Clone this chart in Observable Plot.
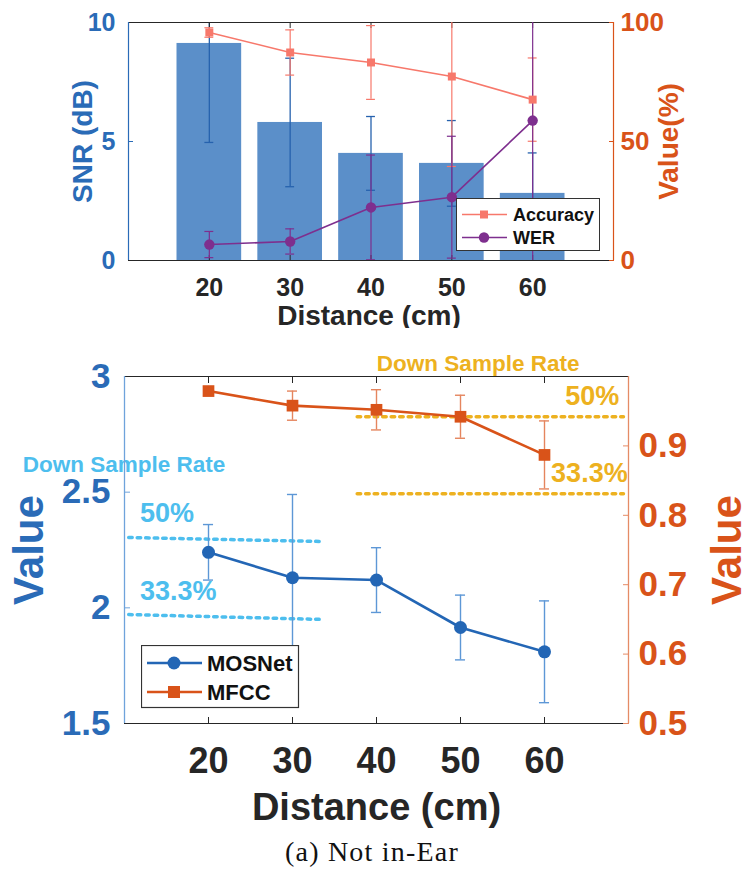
<!DOCTYPE html>
<html><head><meta charset="utf-8">
<script src="https://cdn.jsdelivr.net/npm/d3@7"></script>
<script src="https://cdn.jsdelivr.net/npm/@observablehq/plot@0.6"></script>
<style>
body{margin:0;background:#fff;}
#root{position:relative;width:744px;height:869px;overflow:hidden;background:#fff;}
.panel{position:absolute;left:0;width:744px;overflow:hidden;}
.panel svg.plot-layer{position:absolute;left:0;top:0;}
.legend{position:absolute;}
#caption{position:absolute;left:0;width:744px;text-align:center;font-family:"Liberation Serif","Times New Roman",serif;font-size:28px;letter-spacing:1.2px;color:#111;}
</style></head>
<body><div id="root"></div>
<script>
// ---------- data ----------
const distances = [20, 30, 40, 50, 60];
// top panel
const snr = [9.12, 5.80, 4.50, 4.08, 2.82];
const snrErr = [4.16, 2.70, 1.55, 1.80, 1.70];
const accuracy = [95.8, 87.4, 83.2, 77.3, 67.6];
const accuracyErr = [2.0, 9.5, 15.5, 37.8, 17.5];
const wer = [6.7, 8.0, 22.3, 26.6, 58.8];
const werErr = [5.5, 5.3, 22.0, 25.6, 60.0];
const topLeftTicks = [0, 5, 10];
const topRightTicks = [0, 50, 100];
// bottom panel
const mosnet = [2.24, 2.13, 2.12, 1.915, 1.81];
const mosnetErr = [0.12, 0.36, 0.14, 0.14, 0.22];
const mfcc = [0.979, 0.958, 0.952, 0.942, 0.887];
const mfccErr = [0.006, 0.021, 0.029, 0.031, 0.049];
const botLeftTicks = [1.5, 2, 2.5, 3];
const botRightTicks = [0.5, 0.6, 0.7, 0.8, 0.9];
// down-sample-rate reference lines
const dsrLabels = ["50%", "33.3%"];
const mosnetDsrX = [10.5, 33.3];
const mosnetDsrStart = [2.304, 1.971];
const mosnetDsrEnd = [2.287, 1.950];
const mfccDsrX = [37.7, 69.4];
const mfccDsr = [0.942, 0.831];

// ---------- styles ----------
const FONT = '"Liberation Sans", Arial, Helvetica, sans-serif';
const blue = "#2A6BB7", barBlue = "#5B8FC9", orange = "#D95319", salmon = "#F7786B",
      purple = "#7E2F8E", lightBlue = "#4DBEEE", gold = "#EDB120", dark = "#262626";
const xDomain = [10, 70];
const W = 744;
const noText = () => "";
const fmt = d => String(d);

const topRows = distances.map((d, i) => ({dist: d, snr: snr[i], snrErr: snrErr[i], acc: accuracy[i], accErr: accuracyErr[i], wer: wer[i], werErr: werErr[i]}));
const botRows = distances.map((d, i) => ({dist: d, mos: mosnet[i], mosErr: mosnetErr[i], mfcc: mfcc[i], mfccErr: mfccErr[i]}));
const mosDsrLines = dsrLabels.flatMap((lab, i) => [
  {rate: lab, x: mosnetDsrX[0], y: mosnetDsrStart[i]},
  {rate: lab, x: mosnetDsrX[1], y: mosnetDsrEnd[i]}]);
const mfccDsrLines = dsrLabels.flatMap((lab, i) => mfccDsrX.map(x => ({rate: lab, x, y: mfccDsr[i]})));

function layer(opts) {
  const svg = Plot.plot({width: W, x: {domain: xDomain, axis: null},
    style: {background: "transparent", overflow: "visible", fontFamily: FONT}, ...opts});
  svg.classList.add("plot-layer");
  return svg;
}
function errBars(data, key, errKey, color, capHalf, sw) {
  return [
    Plot.ruleX(data, {x: "dist", y1: d => d[key] - d[errKey], y2: d => d[key] + d[errKey], stroke: color, strokeWidth: sw, clip: true}),
    Plot.ruleY(data, {y: d => d[key] + d[errKey], x1: d => d.dist - capHalf, x2: d => d.dist + capHalf, stroke: color, strokeWidth: sw, clip: true}),
    Plot.ruleY(data, {y: d => d[key] - d[errKey], x1: d => d.dist - capHalf, x2: d => d.dist + capHalf, stroke: color, strokeWidth: sw, clip: true})
  ];
}
function title(str, anchor, dx, dy, size, color) {
  return Plot.text([str], {text: d => d, frameAnchor: anchor, dx, dy, rotate: (anchor === "left" || anchor === "right") ? -90 : 0,
    textAnchor: "middle", lineAnchor: "middle", fontSize: size, fontWeight: "bold", fill: color});
}

const root = document.getElementById("root");

// ---------- top panel ----------
const topPanel = document.createElement("div");
topPanel.className = "panel"; topPanel.style.top = "0px"; topPanel.style.height = "328px";
root.appendChild(topPanel);
const topM = {height: 340, marginLeft: 128, marginRight: 131, marginTop: 22, marginBottom: 80};

topPanel.appendChild(layer({...topM, y: {domain: [0, 10], axis: null},
  marks: [
    Plot.rectY(topRows, {x1: d => d.dist - 4, x2: d => d.dist + 4, y: "snr", fill: barBlue}),
    ...errBars(topRows, "snr", "snrErr", "#2662AE", 0.55, 1.3),
    Plot.axisX({ticks: distances, tickSize: -5, tickFormat: noText, stroke: dark, label: null}),
    Plot.axisX({anchor: "top", ticks: distances, tickSize: -5, tickFormat: noText, stroke: dark, label: null}),
    Plot.axisX({ticks: distances, tickSize: 0, tickPadding: 18, tickFormat: fmt, fontSize: 25, fontWeight: "bold", fill: dark, label: null}),
    Plot.axisY({ticks: topLeftTicks, tickSize: -5, tickFormat: noText, stroke: blue, label: null}),
    Plot.axisY({ticks: topLeftTicks, tickSize: 0, tickPadding: 13, tickFormat: fmt, fontSize: 25, fontWeight: "bold", fill: blue, label: null}),
    Plot.ruleY([0], {stroke: dark, strokeWidth: 1.2}),
    Plot.ruleY([10], {stroke: dark, strokeWidth: 1.2}),
    Plot.ruleX([xDomain[0]], {stroke: blue, strokeWidth: 1.2}),
    title("SNR (dB)", "left", -45, 0, 28, blue),
    title("Distance (cm)", "bottom", -2, 56, 28, dark)
  ]}));

topPanel.appendChild(layer({...topM, y: {domain: [0, 100], axis: null},
  marks: [
    ...errBars(topRows, "acc", "accErr", salmon, 0.55, 1.2),
    ...errBars(topRows, "wer", "werErr", purple, 0.55, 1.2),
    Plot.line(topRows, {x: "dist", y: "acc", stroke: salmon, strokeWidth: 1.6}),
    Plot.dot(topRows, {x: "dist", y: "acc", symbol: "square", r: 4.5, fill: salmon}),
    Plot.line(topRows, {x: "dist", y: "wer", stroke: purple, strokeWidth: 1.6}),
    Plot.dot(topRows, {x: "dist", y: "wer", r: 5.2, fill: purple}),
    Plot.axisY({anchor: "right", ticks: topRightTicks, tickSize: -5, tickFormat: noText, stroke: orange, label: null}),
    Plot.axisY({anchor: "right", ticks: topRightTicks, tickSize: 0, tickPadding: 7, tickFormat: fmt, fontSize: 26, fontWeight: "bold", fill: orange, label: null}),
    Plot.ruleX([xDomain[1]], {stroke: orange, strokeWidth: 1.2}),
    title("Value(%)", "right", 56, 0, 28, orange)
  ]}));

// top legend
const topLegend = `
<svg class="legend" style="left:456px;top:198px" width="145" height="53" font-family='${FONT}'>
  <rect x="0.5" y="0.5" width="143" height="52" fill="#fff" stroke="#333" stroke-width="1"/>
  <line x1="6" x2="51" y1="16.5" y2="16.5" stroke="${salmon}" stroke-width="1.6"/>
  <rect x="24" y="12.5" width="8" height="8" fill="${salmon}"/>
  <text x="57" y="16.5" dy="0.35em" font-size="18" font-weight="bold" fill="#111">Accuracy</text>
  <line x1="6" x2="51" y1="39.5" y2="39.5" stroke="${purple}" stroke-width="1.6"/>
  <circle cx="28" cy="39.5" r="5.2" fill="${purple}"/>
  <text x="57" y="39.5" dy="0.35em" font-size="18" font-weight="bold" fill="#111">WER</text>
</svg>`;
topPanel.insertAdjacentHTML("beforeend", topLegend);

// ---------- bottom panel ----------
const botPanel = document.createElement("div");
botPanel.className = "panel"; botPanel.style.top = "340px"; botPanel.style.height = "529px";
root.appendChild(botPanel);
const botM = {height: 529, marginLeft: 124, marginRight: 116, marginTop: 36, marginBottom: 146};

botPanel.appendChild(layer({...botM, y: {domain: [1.5, 3], axis: null},
  marks: [
    Plot.line(mosDsrLines, {x: "x", y: "y", z: "rate", stroke: lightBlue, strokeWidth: 3.5, strokeDasharray: "3.5,5"}),
    Plot.text(["Down Sample Rate"], {text: d => d, x: 9.94, y: 2.62, fontSize: 22.5, fontWeight: "bold", fill: lightBlue}),
    Plot.text(dsrLabels, {text: d => d, x: 11.85, y: [2.41, 2.07], textAnchor: "start", fontSize: 27, fill: lightBlue, fontWeight: "bold"}),
    ...errBars(botRows, "mos", "mosErr", "#5D97D6", 0.6, 1.4),
    Plot.line(botRows, {x: "dist", y: "mos", stroke: "#2366B5", strokeWidth: 2.6}),
    Plot.dot(botRows, {x: "dist", y: "mos", r: 6.5, fill: "#2366B5"}),
    Plot.axisX({ticks: distances, tickSize: -6, tickFormat: noText, stroke: dark, label: null}),
    Plot.axisX({anchor: "top", ticks: distances, tickSize: -6, tickFormat: noText, stroke: dark, label: null}),
    Plot.axisX({ticks: distances, tickSize: 0, tickPadding: 24, tickFormat: fmt, fontSize: 36, fontWeight: "bold", fill: dark, label: null}),
    Plot.axisY({ticks: botLeftTicks, tickSize: -6, tickFormat: noText, stroke: "#6FA3DB", label: null}),
    Plot.axisY({ticks: botLeftTicks, tickSize: 0, tickPadding: 14, tickFormat: fmt, fontSize: 35, fontWeight: "bold", fill: blue, label: null}),
    Plot.ruleY([1.5], {stroke: dark, strokeWidth: 1.2}),
    Plot.ruleY([3], {stroke: dark, strokeWidth: 1.2}),
    Plot.ruleX([xDomain[0]], {stroke: "#6FA3DB", strokeWidth: 1.3}),
    title("Value", "left", -95, 0, 42, blue),
    title("Distance (cm)", "bottom", 0, 84, 38, dark)
  ]}));

botPanel.appendChild(layer({...botM, y: {domain: [0.5, 1.0], axis: null},
  marks: [
    Plot.line(mfccDsrLines, {x: "x", y: "y", z: "rate", stroke: gold, strokeWidth: 3.5, strokeDasharray: "3.5,5"}),
    Plot.text(["Down Sample Rate"], {text: d => d, x: 52.1, y: 1.018, fontSize: 22.5, fontWeight: "bold", fill: gold}),
    Plot.text(dsrLabels, {text: d => d, x: [68.9, 69.9], y: [0.972, 0.861], textAnchor: "end", fontSize: 27, fill: gold, fontWeight: "bold"}),
    ...errBars(botRows, "mfcc", "mfccErr", "#E5855E", 0.6, 1.4),
    Plot.line(botRows, {x: "dist", y: "mfcc", stroke: orange, strokeWidth: 2.6}),
    Plot.dot(botRows, {x: "dist", y: "mfcc", symbol: "square", r: 6.6, fill: orange}),
    Plot.axisY({anchor: "right", ticks: botRightTicks, tickSize: -6, tickFormat: noText, stroke: "#E58B66", label: null}),
    Plot.axisY({anchor: "right", ticks: botRightTicks, tickSize: 0, tickPadding: 10, tickFormat: fmt, fontSize: 35, fontWeight: "bold", fill: orange, label: null}),
    Plot.ruleX([xDomain[1]], {stroke: "#E58B66", strokeWidth: 1.3}),
    title("Value", "right", 99, 0, 42, orange)
  ]}));

const botLegend = `
<svg class="legend" style="left:141px;top:305px" width="159" height="64" font-family='${FONT}'>
  <rect x="0.5" y="0.5" width="157" height="62" fill="#fff" stroke="#333" stroke-width="1.2"/>
  <line x1="6" x2="61" y1="18" y2="18" stroke="#2366B5" stroke-width="2.6"/>
  <circle cx="33" cy="18" r="6.5" fill="#2366B5"/>
  <text x="66" y="18" dy="0.35em" font-size="22" font-weight="bold" fill="#111">MOSNet</text>
  <line x1="6" x2="61" y1="47" y2="47" stroke="${orange}" stroke-width="2.6"/>
  <rect x="27" y="41" width="12" height="12" fill="${orange}"/>
  <text x="66" y="47" dy="0.35em" font-size="22" font-weight="bold" fill="#111">MFCC</text>
</svg>`;
botPanel.insertAdjacentHTML("beforeend", botLegend);

const cap = document.createElement("div");
cap.id = "caption"; cap.textContent = "(a) Not in-Ear"; cap.style.top = "836px";
root.appendChild(cap);
</script>
</body></html>
